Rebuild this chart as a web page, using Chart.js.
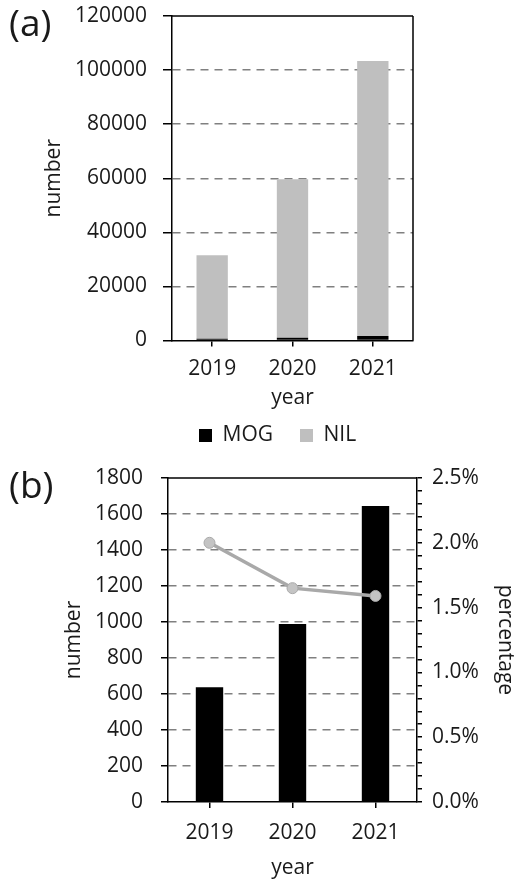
<!DOCTYPE html>
<html>
<head>
<meta charset="utf-8">
<script src="https://cdn.jsdelivr.net/npm/chart.js@4"></script>
<style>
  body { margin: 0; background: #fff; }
  #wrap { position: relative; width: 515px; height: 884px; font-family: "Open Sans", sans-serif; }
  canvas { position: absolute; left: 0; }
  .tag { position: absolute; left: 9px; font-size: 37px; line-height: 1; color: #1a1a1a; z-index: 2; }
</style>
</head>
<body>
<div id="wrap">
  <canvas id="chartA" width="515" height="456" style="top:0"></canvas>
  <canvas id="chartB" width="515" height="439" style="top:445px"></canvas>
  <div class="tag" style="top:3px">(a)</div>
  <div class="tag" style="top:465px">(b)</div>
</div>
<script>
// data
const years = ["2019", "2020", "2021"];
const mogCount = [637, 989, 1644];
const nilCount = [30850, 58650, 101700];
const mogPercent = [2.0, 1.65, 1.59];
const countTicksA = [0, 20000, 40000, 60000, 80000, 100000, 120000];
const countTicksB = [0, 200, 400, 600, 800, 1000, 1200, 1400, 1600, 1800];
const percentLabels = [0, 0.5, 1.0, 1.5, 2.0, 2.5];

Chart.defaults.font.family = "'Open Sans', sans-serif";
Chart.defaults.font.size = 21;
Chart.defaults.color = "#1a1a1a";

// black frame on top (and right) of the plot area
const frame = {
  id: "frame",
  afterDraw(chart, args, opts) {
    const { ctx, chartArea: a } = chart;
    ctx.save();
    ctx.strokeStyle = "#000";
    ctx.lineWidth = 1.5;
    ctx.beginPath();
    ctx.moveTo(a.left, a.top);
    ctx.lineTo(a.right, a.top);
    if (opts.right) {
      ctx.moveTo(a.right, a.top);
      ctx.lineTo(a.right, a.bottom);
    }
    ctx.stroke();
    ctx.restore();
  }
};

const dashGrid = (ticks) => ({
  color: (c) => (c.tick && (c.tick.value === ticks[0] || c.tick.value === ticks[ticks.length - 1]) ? "rgba(0,0,0,0)" : "#808080"),
  lineWidth: 1.5,
  tickColor: "#000",
  tickWidth: 1.5,
  tickBorderDash: []
});

// (a) stacked bars
new Chart(document.getElementById("chartA"), {
  type: "bar",
  plugins: [frame],
  data: {
    labels: years,
    datasets: [
      { label: "MOG", data: mogCount, backgroundColor: "#000000" },
      { label: "NIL", data: nilCount, backgroundColor: "#BFBFBF" }
    ]
  },
  options: {
    responsive: false,
    animation: false,
    layout: { padding: { top: 16, right: 102, bottom: 0, left: 0 } },
    datasets: { bar: { categoryPercentage: 1, barPercentage: 0.39 } },
    plugins: {
      tooltip: { enabled: false },
      frame: { right: true },
      legend: {
        position: "bottom",
        fullSize: false,
        align: "start",
        labels: { boxWidth: 13, boxHeight: 13, padding: 27, font: { size: 21 } }
      }
    },
    scales: {
      x: {
        stacked: true,
        grid: { offset: false, drawOnChartArea: false, tickLength: 6, color: "#000", lineWidth: 1.5 },
        border: { color: "#000", width: 1.5 },
        ticks: { padding: 10 },
        title: { display: true, text: "year", padding: { top: 0, bottom: -13 } },
        afterFit: (s) => { s.height = 57.5; }
      },
      y: {
        stacked: true,
        min: countTicksA[0],
        max: countTicksA[countTicksA.length - 1],
        afterBuildTicks: (s) => { s.ticks = countTicksA.map((v) => ({ value: v })); },
        ticks: { padding: 16, callback: (v) => String(v) },
        grid: Object.assign(dashGrid(countTicksA), { tickLength: 9 }),
        border: { color: "#000", width: 1.5, dash: [8, 6] },
        title: { display: true, text: "number", padding: { top: 41 } },
        afterFit: (s) => { s.width = 172; s.paddingTop = 0; s.paddingBottom = 0; }
      }
    }
  }
});

// (b) MOG count bars + percentage line
new Chart(document.getElementById("chartB"), {
  plugins: [frame],
  data: {
    labels: years,
    datasets: [
      {
        type: "line", label: "percentage", data: mogPercent, yAxisID: "y2", order: 0,
        borderColor: "#A9A9A9", borderWidth: 3.5,
        pointRadius: 5.5, pointBackgroundColor: "#C4C4C4", pointBorderColor: "#A9A9A9", pointBorderWidth: 1
      },
      {
        type: "bar", label: "MOG", data: mogCount, yAxisID: "y", order: 1,
        backgroundColor: "#000000", categoryPercentage: 1, barPercentage: 0.33
      }
    ]
  },
  options: {
    responsive: false,
    animation: false,
    layout: { padding: { top: 33, right: 0, bottom: 0, left: 0 } },
    plugins: {
      tooltip: { enabled: false },
      legend: { display: false },
      frame: { right: false }
    },
    scales: {
      x: {
        grid: { offset: false, drawOnChartArea: false, tickLength: 6, color: "#000", lineWidth: 1.5 },
        border: { color: "#000", width: 1.5 },
        ticks: { padding: 12 },
        title: { display: true, text: "year", padding: { top: 0, bottom: 3 } },
        afterFit: (s) => { s.height = 82; }
      },
      y: {
        position: "left",
        min: countTicksB[0],
        max: countTicksB[countTicksB.length - 1],
        afterBuildTicks: (s) => { s.ticks = countTicksB.map((v) => ({ value: v })); },
        ticks: { padding: 18, callback: (v) => String(v) },
        grid: Object.assign(dashGrid(countTicksB), { tickLength: 7 }),
        border: { color: "#000", width: 1.5, dash: [8, 6] },
        title: { display: true, text: "number", padding: { top: 61 } },
        afterFit: (s) => { s.width = 168; }
      },
      y2: {
        position: "right",
        min: percentLabels[0],
        max: percentLabels[percentLabels.length - 1],
        ticks: {
          stepSize: 0.1,
          autoSkip: false,
          padding: 10,
          callback: (v) => (percentLabels.some((p) => Math.abs(p - v) < 1e-6) ? v.toFixed(1) + "%" : "")
        },
        grid: { drawOnChartArea: false, color: "#000", tickLength: 5, lineWidth: 1.5 },
        border: { color: "#000", width: 1.5 },
        title: { display: true, text: "percentage", padding: { top: -3 } },
        afterFit: (s) => { s.width = 98; }
      }
    }
  }
});
</script>
</body>
</html>
